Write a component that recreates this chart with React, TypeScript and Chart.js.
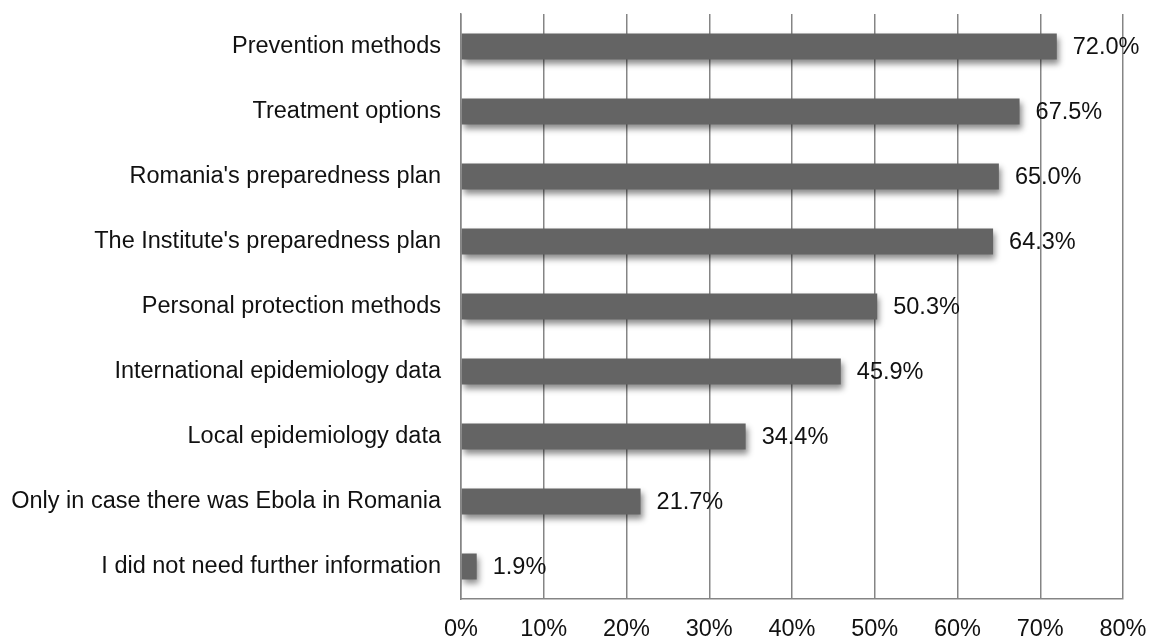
import React, { useEffect, useRef } from "react";
import { Chart, registerables } from "chart.js";

Chart.register(...registerables);

const categories = [
  "Prevention methods",
  "Treatment options",
  "Romania's preparedness plan",
  "The Institute's preparedness plan",
  "Personal protection methods",
  "International epidemiology data",
  "Local epidemiology data",
  "Only in case there was Ebola in Romania",
  "I did not need further information",
];
const values = [72.0, 67.5, 65.0, 64.3, 50.3, 45.9, 34.4, 21.7, 1.9];
const xTicks = [0, 10, 20, 30, 40, 50, 60, 70, 80];

const FONT = "'Liberation Sans', Arial, sans-serif";

const shadowPlugin = {
  id: "barShadow",
  beforeDatasetsDraw(chart: any) {
    const ctx = chart.ctx;
    ctx.save();
    ctx.shadowColor = "rgba(0,0,0,0.45)";
    ctx.shadowBlur = 6;
    ctx.shadowOffsetX = 2;
    ctx.shadowOffsetY = 4;
  },
  afterDatasetsDraw(chart: any) {
    chart.ctx.restore();
  },
};

const labelPlugin = {
  id: "valueLabels",
  afterDraw(chart: any) {
    const ctx = chart.ctx;
    const meta = chart.getDatasetMeta(0);
    ctx.save();
    ctx.font = `23.5px ${FONT}`;
    ctx.fillStyle = "#111";
    ctx.textAlign = "left";
    ctx.textBaseline = "middle";
    meta.data.forEach((bar: any, i: number) => {
      ctx.fillText(values[i].toFixed(1) + "%", bar.x + 16, bar.y + 1);
    });
    ctx.restore();
  },
};

export default function App() {
  const ref = useRef<HTMLCanvasElement | null>(null);
  useEffect(() => {
    if (!ref.current) return;
    const chart = new Chart(ref.current, {
      type: "bar",
      data: {
        labels: categories,
        datasets: [
          {
            data: values,
            backgroundColor: "#646464",
            borderWidth: 0,
            barPercentage: 0.4,
            categoryPercentage: 1,
          },
        ],
      },
      options: {
        indexAxis: "y",
        animation: false,
        responsive: false,
        maintainAspectRatio: false,
        layout: { padding: { top: 14, right: 27, left: 0, bottom: 0 } },
        plugins: {
          legend: { display: false },
          tooltip: { enabled: false },
        },
        scales: {
          x: {
            min: 0,
            max: 80,
            afterBuildTicks(scale: any) {
              scale.ticks = xTicks.map((v) => ({ value: v }));
            },
            afterFit(scale: any) {
              scale.height = 39;
              scale.paddingLeft = 0;
              scale.paddingRight = 0;
              scale.paddingTop = 0;
              scale.paddingBottom = 0;
            },
            grid: {
              display: true,
              color: "#858585",
              lineWidth: 1.5,
              drawTicks: false,
            },
            border: { display: true, color: "#858585", width: 1.5 },
            ticks: {
              padding: 16,
              color: "#111",
              font: { family: FONT, size: 23.5 },
              callback: (v: any) => `${v}%`,
              maxRotation: 0,
              autoSkip: false,
            },
          },
          y: {
            afterFit(scale: any) {
              scale.width = 461;
              scale.paddingLeft = 0;
              scale.paddingRight = 0;
              scale.paddingTop = 0;
              scale.paddingBottom = 0;
            },
            grid: { display: false, drawTicks: false },
            border: { display: true, color: "#858585", width: 1.5 },
            ticks: {
              padding: 20,
              color: "#111",
              font: { family: FONT, size: 23.5 },
              autoSkip: false,
            },
          },
        },
      },
      plugins: [shadowPlugin, labelPlugin],
    });
    return () => chart.destroy();
  }, []);
  return (
    <div style={{ position: "fixed", left: 0, top: 0, width: 1150, height: 638, background: "#fff" }}>
      <canvas ref={ref} width={1150} height={638} style={{ display: "block" }} />
    </div>
  );
}
